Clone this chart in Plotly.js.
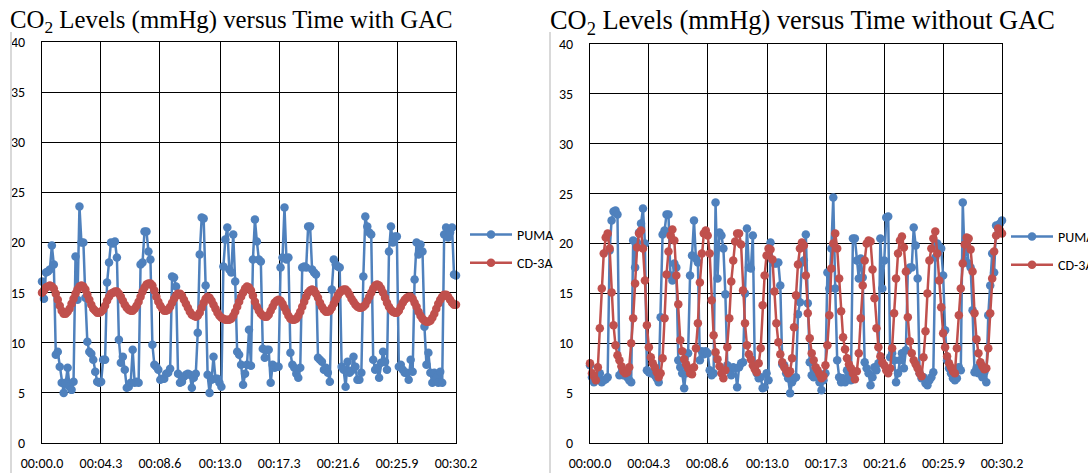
<!DOCTYPE html>
<html>
<head>
<meta charset="utf-8">
<script src="https://cdn.plot.ly/plotly-3.0.1.min.js"></script>
<style>
html,body{margin:0;padding:0;background:#fff;overflow:hidden;width:1088px;height:473px;}
#chart{width:1140px;height:473px;}
</style>
</head>
<body>
<div id="chart"></div>
<script>
// ---- Data ----
const timeLabels = ["00:00.0","00:04.3","00:08.6","00:13.0","00:17.3","00:21.6","00:25.9","00:30.2"];
const seriesNames = ["PUMA","CD-3A"];
const titleWith = "CO<sub>2</sub> Levels (mmHg) versus Time with GAC";
const titleWithout = "CO<sub>2</sub> Levels (mmHg) versus Time without GAC";

// CO2 with GAC (mmHg)
const withGacPuma = [
16.1,14.4,17.0,17.1,17.3,19.7,17.8,8.8,9.1,7.6,6.0,5.0,6.0,7.5,5.6,5.3,6.1,18.6,14.3,23.6,
20.0,20.0,14.5,10.1,9.1,8.9,8.3,7.1,6.1,6.0,6.1,8.3,8.3,16.0,18.0,20.0,19.9,20.1,18.5,10.3,
8.0,8.6,7.3,5.5,5.6,6.0,9.3,6.0,6.1,6.0,17.8,18.0,21.1,21.1,19.1,18.3,9.8,7.8,7.6,7.3,
6.3,6.4,6.4,6.9,7.0,7.4,16.6,16.5,15.6,6.9,6.0,6.1,6.6,6.8,6.9,6.8,5.5,6.5,6.9,11.0,
18.8,22.5,22.4,15.7,6.8,5.0,6.3,8.6,6.4,6.4,6.0,5.6,17.6,20.3,21.5,17.3,17.0,20.8,16.1,9.1,
8.8,7.8,5.8,6.9,7.8,11.3,7.7,18.3,22.3,20.1,18.3,18.1,9.4,8.5,9.3,9.3,6.0,7.8,7.5,7.6,
7.6,17.5,18.5,23.5,18.3,18.5,9.0,7.8,7.5,6.9,6.5,7.5,17.5,17.6,17.5,21.6,21.6,17.3,17.0,16.8,
8.5,8.3,8.1,7.3,7.5,7.0,6.1,15.3,18.3,17.8,17.6,17.5,7.6,7.3,5.6,8.1,7.0,7.2,8.6,7.6,
6.3,6.3,7.0,16.6,22.6,21.6,21.0,20.8,8.3,7.3,7.5,6.5,8.0,9.1,8.1,7.3,19.1,21.6,20.0,20.6,
20.6,7.6,7.8,7.3,7.0,7.0,6.3,8.3,7.1,16.3,20.0,18.8,19.8,19.1,11.6,7.8,9.0,7.0,6.0,7.0,
6.5,6.0,7.1,6.0,20.8,21.5,20.5,21.0,21.5,16.8,16.7
];
const withGacCd3a = [
15.0,15.2,15.5,15.6,15.7,15.6,15.4,14.9,14.3,13.7,13.2,12.9,12.9,13.1,13.4,13.9,14.4,14.9,15.3,15.6,
15.7,15.6,15.3,14.8,14.3,13.8,13.4,13.2,13.0,13.0,13.1,13.3,13.7,14.2,14.6,14.9,15.0,15.1,15.1,14.9,
14.6,14.2,13.8,13.5,13.3,13.2,13.2,13.4,13.7,14.1,14.6,15.1,15.5,15.8,15.9,15.9,15.7,15.2,14.6,14.1,
13.7,13.4,13.2,13.2,13.3,13.6,14.0,14.4,14.7,14.9,14.9,14.7,14.3,13.9,13.5,13.1,12.8,12.7,12.6,12.7,
13.0,13.5,14.0,14.4,14.6,14.5,14.2,13.8,13.4,13.0,12.7,12.5,12.4,12.3,12.3,12.3,12.4,12.7,13.1,13.6,
14.1,14.6,15.0,15.4,15.6,15.5,15.2,14.7,14.1,13.6,13.2,12.9,12.7,12.6,12.6,12.8,13.2,13.6,14.0,14.2,
14.3,14.2,13.9,13.5,13.1,12.7,12.4,12.3,12.3,12.4,12.7,13.1,13.6,14.1,14.6,15.0,15.2,15.3,15.2,14.9,
14.5,14.0,13.6,13.3,13.1,13.1,13.2,13.5,13.9,14.3,14.7,15.0,15.2,15.3,15.3,15.1,14.8,14.4,14.1,13.8,
13.6,13.5,13.5,13.6,13.8,14.2,14.6,15.0,15.4,15.7,15.8,15.7,15.4,15.0,14.5,14.0,13.6,13.3,13.1,13.0,
13.0,13.2,13.6,14.0,14.3,14.5,14.6,14.6,14.4,14.0,13.6,13.1,12.7,12.4,12.2,12.1,12.1,12.2,12.5,12.9,
13.4,13.9,14.3,14.6,14.8,14.8,14.6,14.3,14.0,13.8,13.8
];

// CO2 without GAC (mmHg)
const withoutGacPuma = [
7.8,6.6,6.1,6.5,6.8,7.0,6.1,6.3,6.4,6.6,19.3,22.3,23.2,23.3,22.9,6.8,7.0,6.8,7.0,6.6,
6.3,6.1,20.3,17.6,20.1,21.1,22.0,23.5,20.0,7.3,7.1,7.0,7.0,6.8,6.5,6.1,12.6,20.9,21.3,22.9,
22.9,16.8,16.3,18.0,17.6,8.3,7.6,7.0,5.5,7.0,9.0,16.8,18.8,22.3,18.5,18.1,8.3,9.2,8.9,9.2,
9.0,7.3,6.8,7.0,24.1,16.5,21.1,20.8,19.5,14.9,7.8,7.5,6.8,7.6,7.5,5.6,7.6,8.0,8.1,15.0,
21.5,17.6,17.5,20.8,7.6,7.0,6.5,6.6,5.5,5.6,7.0,6.3,20.1,18.3,18.0,18.0,18.1,15.8,7.9,7.8,
7.0,6.5,5.0,6.1,6.5,6.6,12.9,14.1,18.1,18.3,20.9,14.0,8.1,6.8,6.6,7.1,7.0,6.1,5.3,6.3,
7.0,17.1,15.5,19.5,24.6,15.5,8.3,6.6,6.1,6.5,6.1,7.3,6.5,6.3,20.5,20.5,18.3,16.5,18.5,16.6,
8.1,7.5,7.0,5.8,6.6,7.6,7.3,8.0,20.5,15.5,18.3,22.6,22.7,8.6,9.0,8.3,6.1,7.0,8.3,9.0,
7.5,9.3,17.3,17.6,17.6,21.6,19.8,16.5,7.0,6.5,6.6,6.0,5.8,6.3,6.6,7.1,18.6,20.0,19.7,19.5,
16.8,11.3,8.3,7.5,7.0,6.5,6.3,6.5,7.6,7.3,24.1,18.3,20.0,18.0,17.6,13.3,7.1,7.5,7.0,8.0,
6.6,7.1,6.1,12.8,15.8,19.0,17.1,21.8,21.8,22.0,22.3
];
const withoutGacCd3a = [
8.0,7.0,6.7,6.3,7.6,11.5,15.5,19.0,20.6,21.0,19.5,15.1,11.8,9.8,8.8,8.3,7.7,7.2,7.0,7.1,
7.6,10.0,12.5,16.0,19.6,21.0,21.3,19.5,16.3,11.8,9.6,8.6,8.0,7.6,7.1,6.6,7.0,8.5,12.5,16.9,
19.2,20.8,21.4,20.3,16.8,13.9,10.3,9.2,8.4,7.9,7.5,7.0,6.9,7.6,9.5,12.0,16.1,19.0,21.0,21.3,
20.8,19.0,14.3,10.8,9.1,8.4,7.7,7.0,6.5,7.3,9.6,12.5,16.2,18.3,20.2,21.0,21.0,19.9,15.3,12.0,
9.8,8.9,8.4,7.8,7.4,7.1,8.0,9.5,13.8,16.8,18.8,19.5,19.4,18.4,15.2,12.0,10.1,8.9,8.1,7.6,
7.3,7.0,7.2,8.5,11.6,14.8,17.9,19.5,20.1,19.8,16.8,13.0,10.5,9.0,8.3,7.6,7.3,6.9,6.5,6.7,
7.8,9.8,12.8,17.5,20.0,21.0,19.5,16.5,13.2,10.6,9.4,8.5,7.9,7.5,7.0,6.4,7.2,9.0,12.5,15.8,
18.3,20.0,20.3,20.2,17.4,14.5,11.5,9.6,8.7,8.1,7.8,7.3,7.0,7.5,9.5,13.0,16.5,19.0,20.3,20.7,
19.6,17.2,12.6,10.2,9.0,8.3,7.9,7.5,7.0,6.7,8.6,11.2,15.0,18.3,19.5,20.5,21.2,19.0,16.3,13.6,
11.0,9.6,8.7,8.0,7.6,7.2,7.0,9.5,12.8,15.5,18.0,19.9,20.6,20.5,19.4,17.2,13.0,10.4,9.0,8.1,
7.7,7.4,7.5,9.5,13.0,16.5,19.2,20.8,21.5,21.3,21.0
];

// ---- Build ----
function toSeconds(lbl){ const p = lbl.split(":"); return parseFloat(p[0])*60 + parseFloat(p[1]); }
const tickVals = timeLabels.map(toSeconds);
const tEnd = tickVals[tickVals.length-1];
const nPts = withGacPuma.length;
const times = withGacPuma.map((_, i) => i * tEnd / (nPts - 1));

const BLUE = "#4F81BD", RED = "#C0504D";
const FONT = "Calibri, Carlito, 'Liberation Sans', Arial, sans-serif";
const SERIF = "'Times New Roman', 'Liberation Serif', serif";

function tr(y, name, color, xa, ya, lg){
  return {
    x: times, y: y, name: name, type: "scatter", mode: "lines+markers",
    xaxis: xa, yaxis: ya, legend: lg, legendgroup: name + lg,
    line: {color: color, width: 2.5},
    marker: {color: color, size: 8.5, symbol: "circle"},
    cliponaxis: false
  };
}
const data = [
  tr(withGacPuma, seriesNames[0], BLUE, "x", "y", "legend"),
  tr(withGacCd3a, seriesNames[1], RED, "x", "y", "legend"),
  tr(withoutGacPuma, seriesNames[0], BLUE, "x2", "y2", "legend2"),
  tr(withoutGacCd3a, seriesNames[1], RED, "x2", "y2", "legend2")
];

// figure is drawn a bit wider than the 1088 px window so that the right legend
// runs off the edge, as in the reference
const W = 1140, H = 473;
const px = v => v / W;
const py = v => (H - v) / H;

function xax(domain, anchor){
  return {
    domain: domain, anchor: anchor, range: [0, tEnd],
    tickmode: "array", tickvals: tickVals, ticktext: timeLabels,
    showgrid: true, gridcolor: "#000", gridwidth: 1,
    showline: true, linecolor: "#000", linewidth: 1, mirror: true,
    zeroline: false, ticks: "", ticklabelstandoff: 7,
    tickfont: {family: FONT, size: 14, color: "#000"}, fixedrange: true
  };
}
function yax(domain, anchor){
  return {
    domain: domain, anchor: anchor, range: [0, 40], dtick: 5, tick0: 0,
    showgrid: true, gridcolor: "#000", gridwidth: 1,
    showline: true, linecolor: "#000", linewidth: 1, mirror: true,
    zeroline: false, ticks: "", ticklabelstandoff: 13,
    tickfont: {family: FONT, size: 14, color: "#000"}, fixedrange: true
  };
}
function lgd(x, y){
  return {
    x: x, y: y, xanchor: "left", yanchor: "top",
    font: {family: FONT, size: 14, color: "#000"},
    bgcolor: "rgba(0,0,0,0)", traceorder: "grouped", tracegroupgap: 7,
    itemwidth: 42,
    itemclick: false, itemdoubleclick: false
  };
}

const layout = {
  width: W, height: H, margin: {l: 0, r: 0, t: 0, b: 0},
  paper_bgcolor: "#fff", plot_bgcolor: "#fff", showlegend: true,
  xaxis: xax([px(42), px(456)], "y"),
  yaxis: yax([py(443), py(42)], "x"),
  xaxis2: xax([px(590), px(1002)], "y2"),
  yaxis2: yax([py(443), py(44)], "x2"),
  legend: lgd(px(465), py(219)),
  legend2: lgd(px(1006), py(221)),
  annotations: [
    {text: titleWith, xref: "paper", yref: "paper", x: px(8), y: py(4), xanchor: "left", yanchor: "top",
     showarrow: false, font: {family: SERIF, size: 24.8, color: "#000"}},
    {text: titleWithout, xref: "paper", yref: "paper", x: px(548), y: py(3), xanchor: "left", yanchor: "top",
     showarrow: false, font: {family: SERIF, size: 26.4, color: "#000"}}
  ],
  shapes: [
    {type: "line", xref: "paper", yref: "paper", x0: px(11), x1: px(11), y0: py(32), y1: 0, line: {color: "#d9d9d9", width: 2}},
    {type: "line", xref: "paper", yref: "paper", x0: px(550), x1: px(550), y0: py(32), y1: 0, line: {color: "#d9d9d9", width: 2}}
  ]
};

Plotly.newPlot("chart", data, layout, {displayModeBar: false, staticPlot: true});
</script>
</body>
</html>
